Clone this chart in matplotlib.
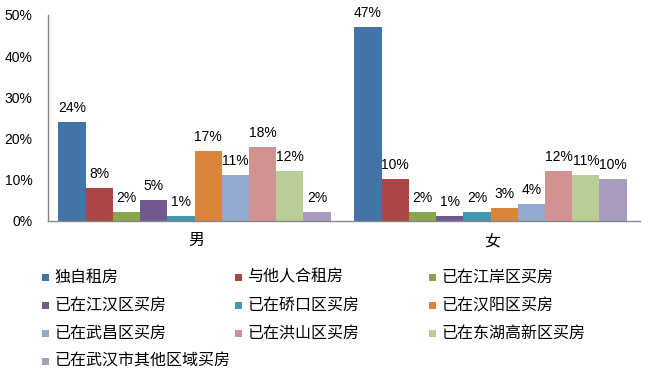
import matplotlib
matplotlib.use('Agg')
import matplotlib.pyplot as plt
from matplotlib.patches import Rectangle
import numpy as np

categories = ['男', '女']
series = ['独自租房', '与他人合租房', '已在江岸区买房', '已在江汉区买房', '已在硚口区买房',
          '已在汉阳区买房', '已在武昌区买房', '已在洪山区买房', '已在东湖高新区买房',
          '已在武汉市其他区域买房']
male = [24, 8, 2, 5, 1, 17, 11, 18, 12, 2]
female = [47, 10, 2, 1, 2, 3, 4, 12, 11, 10]
colors = ['#4572A7', '#AA4643', '#89A54E', '#71588F', '#4198AF',
          '#DB843D', '#93A9CF', '#D19392', '#B9CD96', '#A99BBD']
yticks = [0, 10, 20, 30, 40, 50]

plt.rcParams['font.family'] = ['Liberation Sans', 'Noto Sans CJK SC']

W, H = 650, 381
fig = plt.figure(figsize=(W / 100, H / 100), dpi=100)
ax = fig.add_axes([48 / W, 1 - 220.5 / H, 592 / W, 205.5 / H])

values = np.array([male, female])
n = len(series)
w = 0.092
x = np.arange(len(categories))
for i, s in enumerate(series):
    pos = x - w * n / 2 + w * (i + 0.5) - 0.005
    bars = ax.bar(pos, values[:, i], width=w, color=colors[i], label=s)
    for b, v in zip(bars, values[:, i]):
        ax.annotate(f'{v}%', (b.get_x() + b.get_width() / 2, b.get_height()),
                    xytext=(0, 5), textcoords='offset points',
                    ha='center', va='bottom', fontsize=10, color='#000000')

ax.set_xlim(-0.5, 1.5)
ax.set_ylim(0, 50)
ax.set_xticks(x)
ax.set_xticklabels(categories, fontsize=11.5)
ax.set_yticks(yticks)
ax.set_yticklabels([f'{v}%' for v in yticks], fontsize=10)
ax.tick_params(axis='both', length=0)
ax.tick_params(axis='y', pad=11)
ax.tick_params(axis='x', pad=9)
for sp in ['top', 'right']:
    ax.spines[sp].set_visible(False)
for sp in ['left', 'bottom']:
    ax.spines[sp].set_color('#868686')
    ax.spines[sp].set_linewidth(1.0)

# legend (manual grid, row-major, 3 columns)
col_x = [42, 235, 429]
row_y0, row_dy = 277, 28
ms = 7
for i, s in enumerate(series):
    r, c = divmod(i, 3)
    mx = col_x[c]
    my = row_y0 + r * row_dy
    fig.add_artist(Rectangle((mx / W, 1 - (my + ms / 2) / H), ms / W, ms / H,
                             transform=fig.transFigure, facecolor=colors[i],
                             edgecolor='none'))
    fig.text((mx + 12.5) / W, 1 - my / H, s, fontsize=11.5, va='center', ha='left',
             color='#000000')

fig.savefig('out.png', dpi=100)
